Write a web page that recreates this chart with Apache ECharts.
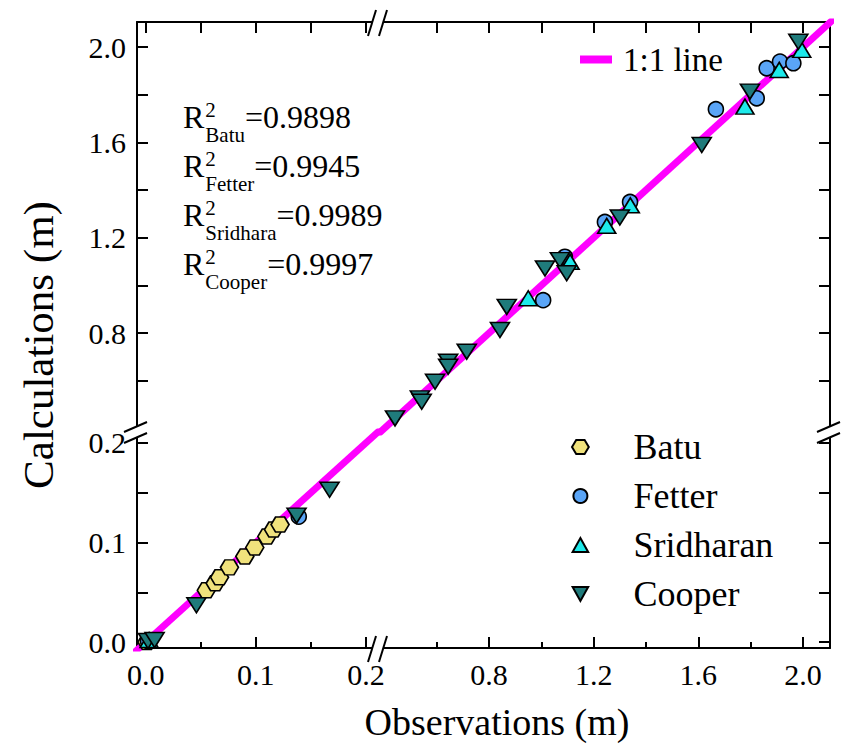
<!DOCTYPE html>
<html>
<head>
<meta charset="utf-8">
<script src="https://cdn.jsdelivr.net/npm/echarts@6/dist/echarts.min.js"></script>
<style>
html, body { margin: 0; padding: 0; background: #fff; }
#chart { width: 843px; height: 748px; }
</style>
</head>
<body>
<div id="chart"></div>
<script>
const FONT = '"Liberation Serif", "Times New Roman", serif'

// broken axes: lower part 0 - 0.2, upper part 0.4 - 2.1
const xLow = [-0.008, 0.211]
const xHigh = [0.376, 2.103]
const yLow = [-0.006, 0.211]
const yHigh = [0.385, 2.105]

const lowTicks = [0, 0.05, 0.1, 0.15, 0.2]
const lowLabels = [0, 0.1, 0.2]
const lowMinor = [0.05, 0.15]
const highTicks = [0.6, 0.8, 1.0, 1.2, 1.4, 1.6, 1.8, 2.0]
const highLabels = [0.8, 1.2, 1.6, 2.0]
const highMinor = [0.6, 1.0, 1.4, 1.8]

const lineEnds = [-0.02, 2.2]

// Batu (only small depths)
const batuObs  = [0.001, 0.055, 0.063, 0.067, 0.076, 0.090, 0.099, 0.110, 0.116, 0.122]
const batuCalc = [0.000, 0.052, 0.059, 0.065, 0.075, 0.086, 0.095, 0.106, 0.113, 0.118]

// Fetter
const fetterObsLow  = [0.002, 0.139]
const fetterCalcLow = [0.001, 0.126]
const fetterObsHigh  = [1.007, 1.090, 1.243, 1.339, 1.667, 1.823, 1.861, 1.912, 1.963]
const fetterCalcHigh = [0.938, 1.120, 1.266, 1.350, 1.739, 1.785, 1.911, 1.939, 1.932]

// Sridharan
const sridObsLow  = [0.003]
const sridCalcLow = [0.002]
const sridObsHigh  = [0.950, 1.110, 1.250, 1.340, 1.778, 1.909, 1.995]
const sridCalcHigh = [0.946, 1.099, 1.250, 1.336, 1.750, 1.904, 1.988]

// Cooper
const cooperObsLow  = [0.002, 0.008, 0.046, 0.137, 0.167]
const cooperCalcLow = [0.001, 0.002, 0.037, 0.127, 0.153]
const cooperObsHigh  = [0.441, 0.536, 0.543, 0.594, 0.644, 0.644, 0.715, 0.842, 0.868, 1.014, 1.071, 1.097, 1.300, 1.613, 1.797, 1.982]
const cooperCalcHigh = [0.442, 0.526, 0.512, 0.596, 0.680, 0.659, 0.722, 0.813, 0.910, 1.071, 1.106, 1.051, 1.285, 1.589, 1.813, 2.022]

const r2Names = ['Batu', 'Fetter', 'Sridhara', 'Cooper']
const r2Values = ['0.9898', '0.9945', '0.9989', '0.9997']

const HEX = 'path://M0,5 L3,0 L9,0 L12,5 L9,10 L3,10 Z'
const TRI_UP = 'path://M5,0 L10,9 L0,9 Z'
const TRI_DOWN = 'path://M0,0 L10,0 L5,9 Z'

const zip = (a, b) => a.map((v, i) => [v, b[i]])

function valAxis (gridIndex, position, range, ticks, labels, tickLen, showLine) {
  return {
    type: 'value',
    gridIndex: gridIndex,
    position: position,
    min: range[0],
    max: range[1],
    axisLine: { show: showLine !== false, onZero: false, lineStyle: { color: '#000', width: 2 } },
    axisTick: { show: true, inside: true, length: tickLen || 11, customValues: ticks, lineStyle: { color: '#000', width: 2 } },
    axisLabel: labels ? {
      show: true, customValues: labels, formatter: v => v.toFixed(1),
      fontFamily: FONT, fontSize: 30, color: '#000', margin: 11
    } : { show: false },
    splitLine: { show: false }
  }
}

const grids = [
  { left: 137, top: 432, width: 241, height: 216 }, // lower left
  { left: 378, top: 22, width: 452, height: 410 },  // upper right
  { left: 137, top: 22, width: 241, height: 410 },  // upper left (frame only)
  { left: 378, top: 432, width: 452, height: 216 }  // lower right (frame only)
].map(g => Object.assign({ outerBoundsMode: 'none', containLabel: false }, g))

const xAxes = [
  valAxis(0, 'bottom', xLow, lowLabels, lowLabels, 11),
  valAxis(1, 'top', xHigh, highTicks, null, 11),
  valAxis(2, 'top', xLow, lowTicks, null, 11),
  valAxis(3, 'bottom', xHigh, highLabels, highLabels, 11),
  valAxis(0, 'bottom', xLow, lowMinor, null, 6, false),
  valAxis(3, 'bottom', xHigh, highMinor, null, 6, false)
]
const yAxes = [
  valAxis(0, 'left', yLow, lowTicks, lowLabels, 11),
  valAxis(1, 'right', yHigh, highTicks, null, 11),
  valAxis(2, 'left', yHigh, highTicks, highLabels, 11),
  valAxis(3, 'right', yLow, lowTicks, null, 11)
]

function scatter (name, data, grid, symbol, size, color) {
  return {
    name: name,
    type: 'scatter',
    xAxisIndex: grid,
    yAxisIndex: grid,
    data: data,
    symbol: symbol,
    symbolSize: size,
    z: 3,
    itemStyle: { color: color, borderColor: '#000', borderWidth: 1.6, opacity: 1 },
    emphasis: { disabled: true }
  }
}

function oneToOne (grid) {
  return {
    name: '1:1 line',
    type: 'line',
    xAxisIndex: grid,
    yAxisIndex: grid,
    data: zip(lineEnds, lineEnds),
    symbol: 'none',
    clip: true,
    color: '#ff00ff',
    lineStyle: { color: '#ff00ff', width: 7 },
    z: 2,
    emphasis: { disabled: true }
  }
}

const C_BATU = '#f0e27c'
const C_FETTER = '#5aa5f7'
const C_SRID = '#1de9ea'
const C_COOPER = '#1f7b7b'

const series = [
  oneToOne(0),
  oneToOne(1),
  scatter('Batu', zip(batuObs, batuCalc), 0, HEX, [18, 15], C_BATU),
  scatter('Fetter', zip(fetterObsLow, fetterCalcLow), 0, 'circle', 15, C_FETTER),
  scatter('Fetter', zip(fetterObsHigh, fetterCalcHigh), 1, 'circle', 15, C_FETTER),
  scatter('Sridharan', zip(sridObsLow, sridCalcLow), 0, TRI_UP, [18, 15], C_SRID),
  scatter('Sridharan', zip(sridObsHigh, sridCalcHigh), 1, TRI_UP, [18, 15], C_SRID),
  scatter('Cooper', zip(cooperObsLow, cooperCalcLow), 0, TRI_DOWN, [19, 15], C_COOPER),
  scatter('Cooper', zip(cooperObsHigh, cooperCalcHigh), 1, TRI_DOWN, [19, 15], C_COOPER)
]

// text width helper for the R^2 block
const measure = document.createElement('canvas').getContext('2d')
function textW (s, size) {
  measure.font = size + 'px ' + FONT
  return measure.measureText(s).width
}

const BIG = 32
const SMALL = 21
const r2Graphics = []
r2Names.forEach((nm, i) => {
  const x0 = 183
  const base = 128 + 49 * i
  const wR = textW('R', BIG)
  const wScript = Math.max(textW('2', SMALL), textW(nm, SMALL))
  const txt = (t, x, y, size) => ({
    type: 'text', x: x, y: y, z: 10,
    style: { text: t, fontFamily: FONT, fontSize: size, fill: '#000', align: 'left', verticalAlign: 'middle' }
  })
  r2Graphics.push(txt('R', x0, base - 11, BIG))
  r2Graphics.push(txt('2', x0 + wR + 1, base - 18, SMALL))
  r2Graphics.push(txt(nm, x0 + wR + 1, base + 7, SMALL))
  r2Graphics.push(txt('=' + r2Values[i], x0 + wR + wScript + 1, base - 11, BIG))
})

// axis break marks "//"
function hBreak (cx, cy) {
  return [
    { type: 'rect', shape: { x: cx - 6, y: cy - 3, width: 11, height: 6 }, style: { fill: '#fff' }, z: 20 },
    { type: 'line', shape: { x1: cx - 10, y1: cy + 14, x2: cx - 2, y2: cy - 12 }, style: { stroke: '#000', lineWidth: 2 }, z: 21 },
    { type: 'line', shape: { x1: cx + 1, y1: cy + 14, x2: cx + 9, y2: cy - 12 }, style: { stroke: '#000', lineWidth: 2 }, z: 21 }
  ]
}
function vBreak (cx, cy) {
  return [
    { type: 'rect', shape: { x: cx - 3, y: cy - 5, width: 6, height: 10 }, style: { fill: '#fff' }, z: 20 },
    { type: 'line', shape: { x1: cx - 13, y1: cy, x2: cx + 10, y2: cy - 10 }, style: { stroke: '#000', lineWidth: 2 }, z: 21 },
    { type: 'line', shape: { x1: cx - 13, y1: cy + 11, x2: cx + 10, y2: cy + 1 }, style: { stroke: '#000', lineWidth: 2 }, z: 21 }
  ]
}

const graphics = [].concat(
  hBreak(378, 22), hBreak(378, 648), vBreak(137, 432), vBreak(830, 432),
  r2Graphics,
  [
    {
      type: 'text', x: 497, y: 722, z: 10,
      style: { text: 'Observations (m)', fontFamily: FONT, fontSize: 38, fill: '#000', align: 'center', verticalAlign: 'middle' }
    },
    {
      type: 'text', x: 38, y: 345, rotation: Math.PI / 2, z: 10,
      style: { text: 'Calculations (m)', fontFamily: FONT, fontSize: 43, fill: '#000', align: 'center', verticalAlign: 'middle' }
    }
  ]
)

const chart = echarts.init(document.getElementById('chart'), null, { renderer: 'svg' })
chart.setOption({
  animation: false,
  backgroundColor: '#fff',
  grid: grids,
  xAxis: xAxes,
  yAxis: yAxes,
  legend: [
    {
      data: ['Batu', 'Fetter', 'Sridharan', 'Cooper'],
      orient: 'vertical',
      left: 571,
      top: 429,
      padding: 0,
      itemWidth: 96,
      itemHeight: 14,
      itemGap: 13,
      selectedMode: false,
      textStyle: { fontFamily: FONT, fontSize: 36, lineHeight: 36, color: '#000' }
    },
    {
      data: [{ name: '1:1 line', icon: 'rect' }],
      left: 580,
      top: 43,
      padding: 0,
      itemWidth: 32,
      itemHeight: 8,
      selectedMode: false,
      itemStyle: { color: '#ff00ff', borderWidth: 0 },
      textStyle: { fontFamily: FONT, fontSize: 33, lineHeight: 33, color: '#000', padding: [0, 0, 0, 6] }
    }
  ],
  graphic: graphics,
  series: series
})
</script>
</body>
</html>
